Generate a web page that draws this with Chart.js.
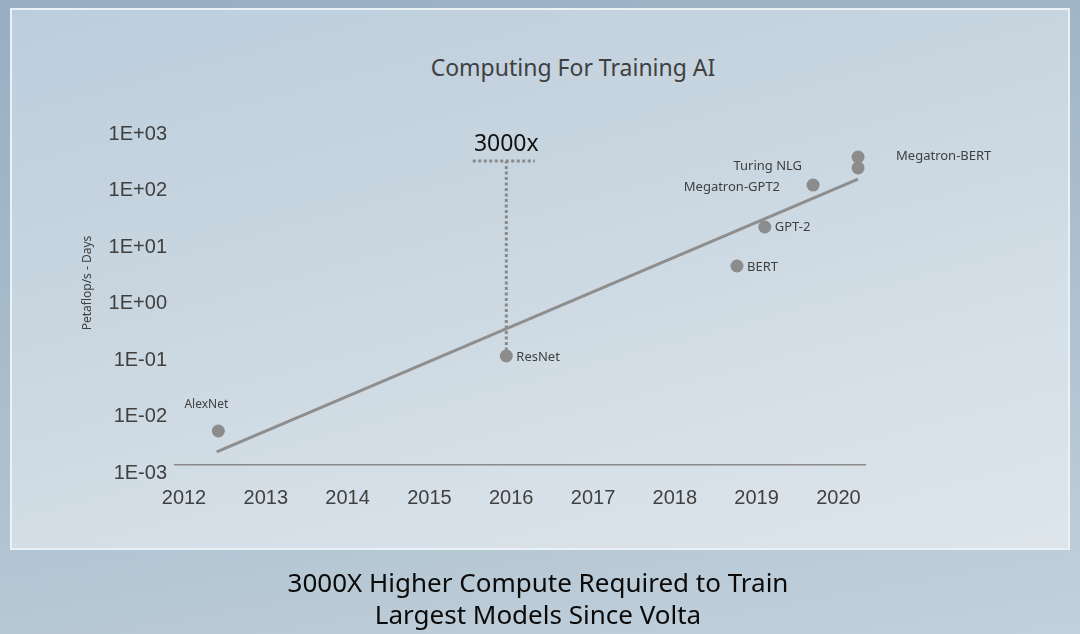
<!DOCTYPE html>
<html>
<head>
<meta charset="utf-8">
<script src="https://cdn.jsdelivr.net/npm/chart.js@4/dist/chart.umd.min.js"></script>
<style>
  html, body { margin: 0; padding: 0; }
  body {
    width: 1080px; height: 634px; position: relative; overflow: hidden;
    background: linear-gradient(170deg, #97aec3 0%, #a8bccb 45%, #c2d1dc 100%);
    font-family: "Noto Sans", sans-serif;
  }
  #panel {
    position: absolute; left: 10px; top: 8px; width: 1060px; height: 542px;
    box-sizing: border-box; border: 2px solid rgba(236, 242, 247, 0.95);
    background: linear-gradient(165deg, #bccedd 0%, #c9d6e0 40%, #d6e0e8 75%, #dde5eb 100%);
  }
  #title {
    position: absolute; left: 0; width: 1146px; top: 51px; text-align: center;
    font-size: 23px; color: #404040; line-height: 32px;
  }
  #caption {
    position: absolute; left: 0; width: 1076px; top: 566px; text-align: center;
    font-size: 26px; color: #0a0a0a; line-height: 32px;
  }
  #chart { position: absolute; left: 0; top: 0; width: 1080px; height: 634px; }
</style>
</head>
<body>
<div id="panel"></div>
<div id="title">Computing For Training AI</div>
<div id="chart"><canvas id="myChart"></canvas></div>
<div id="caption">3000X Higher Compute Required to Train<br>Largest Models Since Volta</div>
<script>
// models, year of release, petaflop/s-days
const modelNames = ['AlexNet', 'ResNet', 'BERT', 'GPT-2', 'Megatron-GPT2', 'Turing NLG', 'Megatron-BERT'];
const modelYears = [2012.42, 2015.94, 2018.76, 2019.10, 2019.69, 2020.24, 2020.24];
const modelPfDays = [0.0040, 0.085, 3.33, 16.3, 90, 181, 283];

// trend line ends
const trendYears = [2012.40, 2020.24];
const trendPfDays = [0.0017, 115];

// "3000x" bracket
const gapYear = 2015.94;
const gapPfDays = [0.085, 240];
const gapBarYears = [2015.53, 2016.29];
const gapLabel = '3000x';

// axes
const xTickYears = [2012, 2013, 2014, 2015, 2016, 2017, 2018, 2019, 2020];
const yTickValues = [1e-3, 1e-2, 1e-1, 1e0, 1e1, 1e2, 1e3];
const yTickLabels = ['1E-03', '1E-02', '1E-01', '1E+00', '1E+01', '1E+02', '1E+03'];
const yTitle = 'Petaflop/s - Days';

const grey = '#8c8c8c';
const textGrey = '#404040';

// where each name sits next to its dot
const labelPlace = {
    'AlexNet': { dx: -12, dy: -26, align: 'center', size: 12 },
    'ResNet': { dx: 10, dy: 1, align: 'left', size: 13 },
    'BERT': { dx: 10, dy: 1, align: 'left', size: 13 },
    'GPT-2': { dx: 10, dy: 0, align: 'left', size: 13 },
    'Megatron-GPT2': { dx: -33, dy: 2, align: 'right', size: 13 },
    'Turing NLG': { dx: -56, dy: -2, align: 'right', size: 13 },
    'Megatron-BERT': { dx: 38, dy: -1, align: 'left', size: 13 }
};

const labelsPlugin = {
    id: 'labels',
    afterDatasetsDraw(chart) {
        const ctx = chart.ctx;
        const x = chart.scales.x, y = chart.scales.y;
        ctx.save();
        ctx.textBaseline = 'middle';
        ctx.fillStyle = textGrey;
        modelNames.forEach((name, i) => {
            const p = labelPlace[name];
            ctx.font = p.size + 'px "Noto Sans"';
            ctx.textAlign = p.align;
            ctx.fillText(name, x.getPixelForValue(modelYears[i]) + p.dx, y.getPixelForValue(modelPfDays[i]) + p.dy);
        });
        // 3000x
        ctx.font = '23px "Noto Sans"';
        ctx.fillStyle = '#111';
        ctx.textAlign = 'center';
        ctx.fillText(gapLabel, x.getPixelForValue(gapYear), y.getPixelForValue(gapPfDays[1]) - 17);
        // y axis title
        ctx.translate(88, 283);
        ctx.rotate(-Math.PI / 2);
        ctx.font = '12px "Noto Sans"';
        ctx.fillStyle = textGrey;
        ctx.fillText(yTitle, 0, 0);
        ctx.restore();
    }
};

const ctx = document.getElementById('myChart');
new Chart(ctx, {
    type: 'scatter',
    data: {
        datasets: [{
            data: modelYears.map((yr, i) => ({ x: yr, y: modelPfDays[i] })),
            backgroundColor: grey,
            borderWidth: 0,
            pointRadius: 6.5
        }, {
            type: 'line',
            data: trendYears.map((yr, i) => ({ x: yr, y: trendPfDays[i] })),
            borderColor: '#8e8e8e',
            borderWidth: 3,
            pointRadius: 0
        }, {
            type: 'line',
            data: gapPfDays.map(v => ({ x: gapYear, y: v })),
            borderColor: '#8a8a8a',
            borderWidth: 3,
            borderDash: [3, 2.5],
            pointRadius: 0
        }, {
            type: 'line',
            data: gapBarYears.map(yr => ({ x: yr, y: gapPfDays[1] })),
            borderColor: '#8a8a8a',
            borderWidth: 3,
            borderDash: [3, 2.5],
            pointRadius: 0
        }]
    },
    options: {
        responsive: true,
        maintainAspectRatio: false,
        animation: false,
        layout: { padding: { left: 10, top: 126, right: 215, bottom: 124 } },
        scales: {
            x: {
                type: 'linear',
                min: 2011.89,
                max: 2020.325,
                afterBuildTicks: s => { s.ticks = xTickYears.map(v => ({ value: v })); },
                afterFit: s => { s.height = 45; },
                grid: { display: false, drawTicks: false },
                border: { display: true, color: '#8a8a8a', width: 1.5 },
                ticks: {
                    padding: 21,
                    color: textGrey,
                    font: { family: '"Liberation Sans", Arial', size: 20 },
                    callback: v => String(v)
                }
            },
            y: {
                type: 'logarithmic',
                min: 1e-3,
                max: 1e3,
                afterBuildTicks: s => { s.ticks = yTickValues.map(v => ({ value: v })); },
                afterFit: s => { s.width = 165; },
                grid: { display: false, drawTicks: false },
                border: { display: false },
                ticks: {
                    padding: 8,
                    labelOffset: 8,
                    color: textGrey,
                    font: { family: '"Liberation Sans", Arial', size: 20 },
                    callback: (v, i) => yTickLabels[i]
                }
            }
        },
        plugins: {
            legend: { display: false },
            tooltip: { enabled: false }
        }
    },
    plugins: [labelsPlugin]
});
</script>
</body>
</html>
